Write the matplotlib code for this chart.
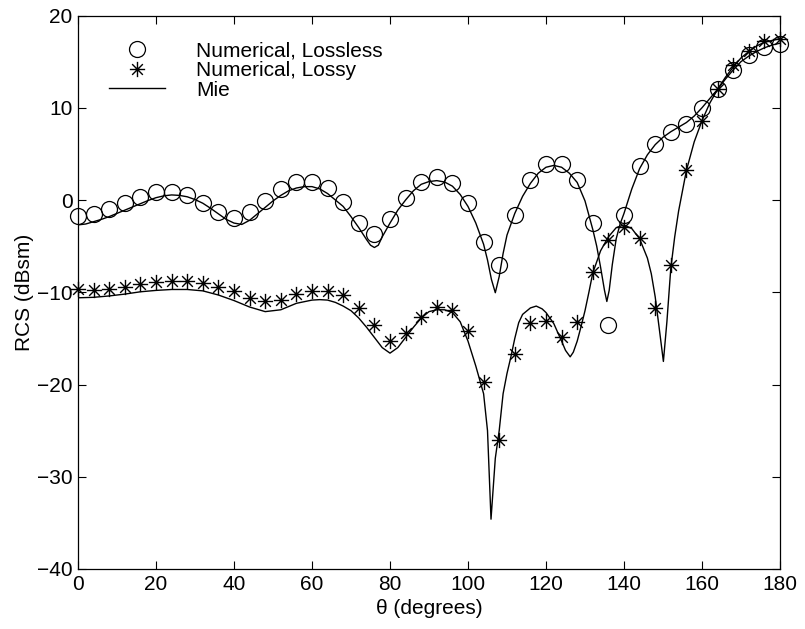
import matplotlib

matplotlib.use("Agg")

import matplotlib.pyplot as plt
import numpy as np
from matplotlib.path import Path

# numerical results, sampled every 4 degrees
theta_pts = np.arange(0, 181, 4)
lossless_pts = [
    -1.7, -1.5, -1.0, -0.3, 0.3, 0.9, 0.9, 0.5, -0.3, -1.3, -1.9, -1.3,
    -0.1, 1.2, 1.9, 2.0, 1.3, -0.2, -2.5, -3.7, -2.1, 0.25, 1.9, 2.5,
    1.8, -0.3, -4.6, -7.1, -1.6, 2.2, 3.9, 3.9, 2.2, -2.5, -13.6, -1.6,
    3.7, 6.1, 7.4, 8.2, 10.0, 12.0, 14.1, 15.7, 16.6, 16.9,
]
lossy_pts = [
    -9.7, -9.8, -9.6, -9.4, -9.1, -8.9, -8.8, -8.8, -9.0, -9.4, -9.9, -10.6,
    -11.0, -10.8, -10.2, -9.9, -9.9, -10.3, -11.7, -13.6, -15.3, -14.4, -12.7, -11.6,
    -11.9, -14.2, -19.7, -26.0, -16.7, -13.3, -13.1, -14.9, -13.2, -7.8, -4.3, -2.9,
    -4.1, -11.7, -7.1, 3.2, 8.6, 12.0, 14.6, 16.2, 17.2, 17.5,
]

# Mie series
mie_lossless_theta = [
    0, 2, 4, 6, 8, 10, 12, 14, 16, 18, 20, 22, 24, 26, 28, 30, 32, 34, 36, 38,
    40, 42, 44, 46, 48, 50, 52, 54, 56, 58, 60, 62, 64, 66, 68, 70, 72, 74, 75, 76,
    77, 78, 80, 82, 84, 86, 88, 90, 92, 94, 96, 98, 100, 102, 104, 105, 106, 107, 108, 109,
    110, 112, 114, 116, 118, 120, 122, 124, 126, 128, 130, 132, 133, 134, 135, 135.6, 136.2, 137, 138, 139,
    140, 142, 144, 146, 148, 150, 152, 154, 156, 158, 160, 162, 164, 166, 168, 170, 172, 174, 176, 178,
    180,
]
mie_lossless = [
    -2.7, -2.6, -2.35, -2.1, -1.8, -1.45, -1.1, -0.75, -0.4, -0.05, 0.25, 0.45, 0.55, 0.5, 0.35, 0.05, -0.35, -0.9, -1.5, -2.1,
    -2.5, -2.65, -2.2, -1.5, -0.8, -0.1, 0.5, 1.0, 1.3, 1.45, 1.45, 1.2, 0.7, 0.0, -0.7, -1.8, -3.0, -4.3, -4.9, -5.15,
    -4.9, -4.0, -2.5, -1.1, 0.0, 1.0, 1.7, 2.0, 2.1, 1.95, 1.5, 0.6, -0.7, -2.5, -4.8, -6.5, -8.6, -10.05, -8.3, -5.8,
    -3.8, -1.45, 0.4, 1.8, 2.9, 3.55, 3.75, 3.55, 2.9, 1.9, -0.1, -3.2, -5.0, -7.3, -9.8, -11.0, -9.8, -7.0, -4.2, -2.6,
    -1.45, 1.2, 3.4, 4.9, 6.0, 6.8, 7.4, 7.9, 8.4, 9.1, 10.0, 11.0, 12.0, 13.1, 14.1, 15.0, 15.6, 16.1, 16.5, 16.8,
    17.0,
]
mie_lossy_theta = [
    0, 4, 8, 12, 16, 20, 24, 28, 32, 36, 40, 44, 48, 52, 56, 60, 62, 64, 66, 68,
    70, 72, 74, 76, 78, 80, 82, 84, 86, 88, 90, 92, 94, 96, 98, 100, 102, 104, 105, 105.9,
    107, 108, 109, 110, 111, 112, 113, 114, 116, 117.5, 119, 120, 122, 124, 125, 126.2, 127, 128, 129, 130,
    131, 132, 134, 136, 138, 140, 142, 144, 146, 147, 148, 149, 150.1, 151, 152, 153, 154, 156, 158, 160,
    162, 164, 166, 168, 170, 172, 174, 176, 178, 180,
]
mie_lossy = [
    -10.6, -10.55, -10.4, -10.2, -9.95, -9.8, -9.7, -9.7, -9.85, -10.3, -10.9, -11.6, -12.1, -11.9, -11.2, -10.85, -10.8, -10.85, -11.1, -11.5,
    -12.0, -12.8, -13.8, -14.9, -16.0, -16.6, -16.0, -14.9, -13.8, -12.8, -12.1, -11.9, -11.9, -12.2, -13.2, -15.3, -18.0, -21.0, -25.0, -34.6,
    -28.0, -25.0, -21.0, -18.8, -17.0, -15.0, -13.3, -12.4, -11.7, -11.5, -11.8, -12.2, -13.4, -15.3, -16.3, -17.0, -16.5, -15.3, -13.7, -12.0,
    -10.0, -7.9, -5.5, -4.0, -3.0, -2.7, -3.1, -4.2, -6.3, -8.0, -10.5, -13.8, -17.5, -13.2, -7.4, -4.0, -1.2, 3.2, 6.3, 8.6,
    10.5, 12.0, 13.3, 14.4, 15.4, 16.1, 16.7, 17.1, 17.3, 17.5,
]

x_ticks = list(range(0, 181, 20))
y_ticks = list(range(-40, 21, 10))

plt.rcParams["font.family"] = ["Liberation Sans", "DejaVu Sans"]
plt.rcParams["font.size"] = 15

# MATLAB-style asterisk marker
asterisk = Path(
    [(-1, 0), (1, 0), (0, -1), (0, 1), (-0.7, -0.7), (0.7, 0.7), (-0.7, 0.7), (0.7, -0.7)],
    [Path.MOVETO, Path.LINETO] * 4,
)

fig = plt.figure(figsize=(8.05, 6.29), dpi=100)
ax = fig.add_axes([78 / 805, 60 / 629, 702 / 805, 553.5 / 629])

ax.plot(theta_pts, lossless_pts, linestyle="none", marker="o", markersize=11.5,
        markerfacecolor="none", markeredgecolor="black", markeredgewidth=0.9,
        clip_on=False, label="Numerical, Lossless")
ax.plot(theta_pts, lossy_pts, linestyle="none", marker=asterisk, markersize=11,
        markeredgecolor="black", markeredgewidth=1.0, clip_on=False,
        label="Numerical, Lossy")
ax.plot(mie_lossless_theta, mie_lossless, color="black", linewidth=1.0, label="Mie")
ax.plot(mie_lossy_theta, mie_lossy, color="black", linewidth=1.0)

ax.set_xlim(0, 180)
ax.set_ylim(-40, 20)
ax.set_xticks(x_ticks)
ax.set_yticks(y_ticks)
ax.tick_params(direction="in", top=True, right=True, length=6, width=0.8, pad=4)
for spine in ax.spines.values():
    spine.set_linewidth(0.9)

ax.set_xlabel("θ (degrees)", labelpad=4)
ax.set_ylabel("RCS (dBsm)", labelpad=2)

ax.legend(loc="upper left", bbox_to_anchor=(0.044, 0.9525), frameon=False,
          borderpad=0, borderaxespad=0, handlelength=2.7, handletextpad=1.5,
          labelspacing=0.02, fontsize=15)

fig.savefig("out.png", dpi=100)
